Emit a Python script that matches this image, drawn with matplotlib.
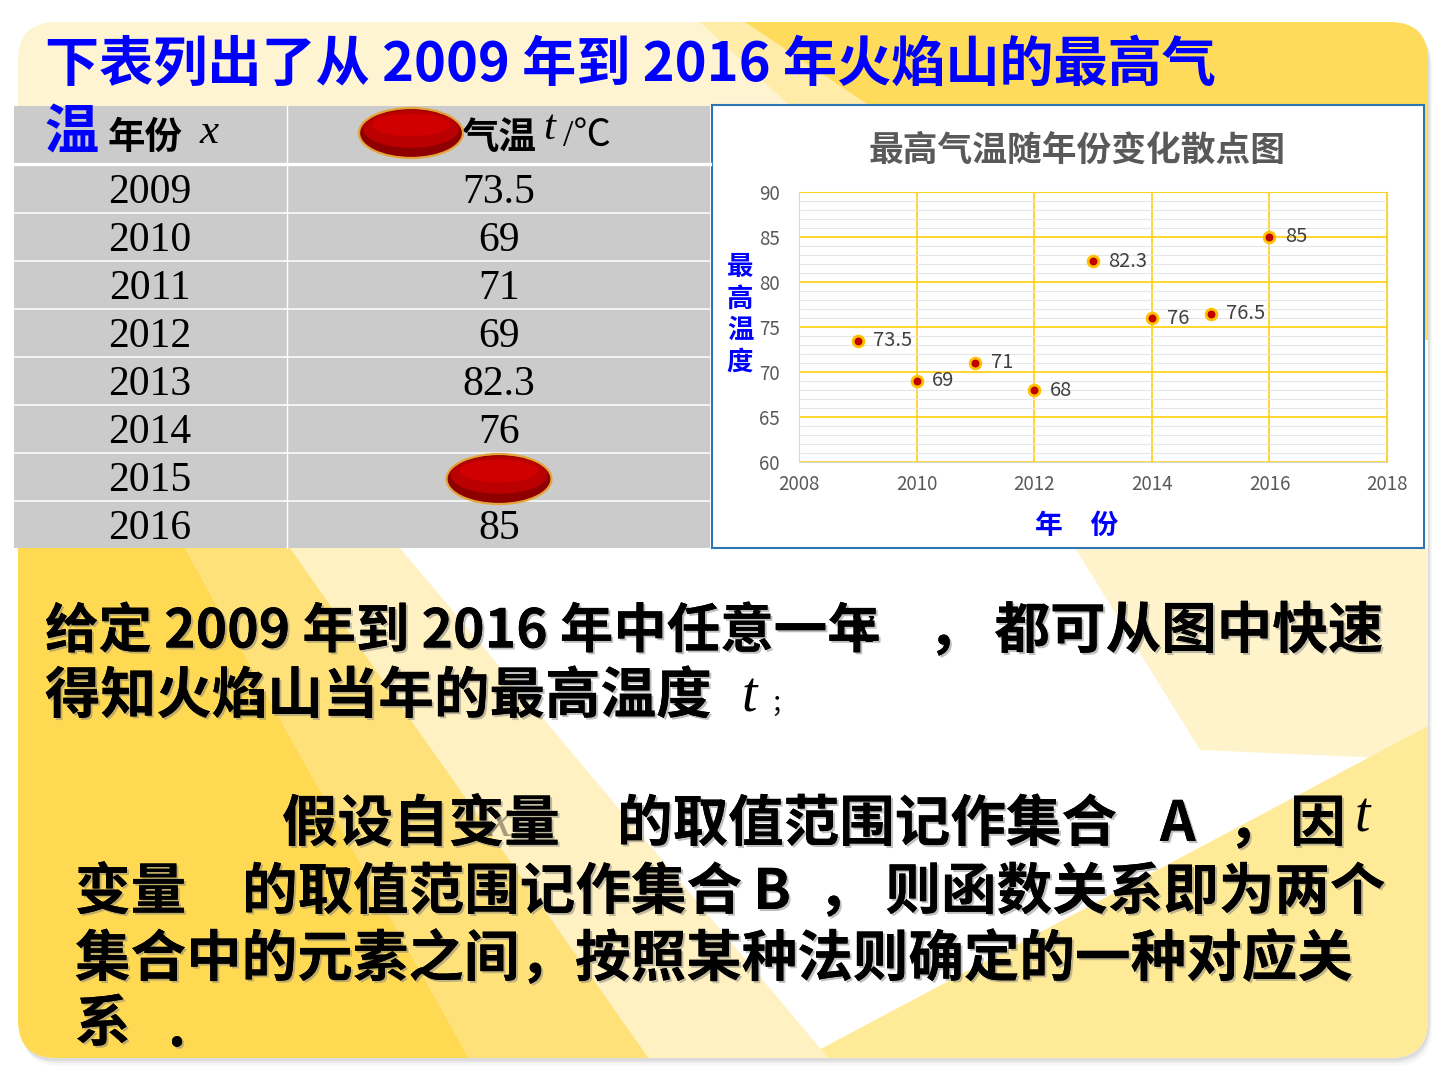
import matplotlib
matplotlib.use("Agg")
import matplotlib.pyplot as plt
import matplotlib.patheffects as pe
from matplotlib.patches import Rectangle, Ellipse, Polygon, FancyBboxPatch

plt.rcParams['font.family'] = ['Noto Sans CJK SC', 'DejaVu Sans']

# data
years = [2009, 2010, 2011, 2012, 2013, 2014, 2015, 2016]
table_temps = ["73.5", "69", "71", "69", "82.3", "76", "76.5", "85"]
chart_temps = [73.5, 69, 71, 68, 82.3, 76, 76.5, 85]
chart_labels = ["73.5", "69", "71", "68", "82.3", "76", "76.5", "85"]
x_ticks = [2008, 2010, 2012, 2014, 2016, 2018]
y_ticks = [60, 65, 70, 75, 80, 85, 90]

BLUE = '#0000FF'
SERIF = ['Liberation Serif', 'DejaVu Serif']

W, H = 1440, 1080
fig = plt.figure(figsize=(14.4, 10.8), dpi=100)
bg = fig.add_axes([0, 0, 1, 1])
bg.set_xlim(0, W)
bg.set_ylim(H, 0)
bg.axis('off')

# slide panel with soft shadow
for d, a in [(8, 0.03), (5, 0.05), (3, 0.06)]:
    bg.add_patch(FancyBboxPatch((18 + d * 0.5, 22 + d), 1410, 1036,
                                boxstyle="round,pad=0,rounding_size=38",
                                fc='black', ec='none', alpha=a, zorder=0.5))
panel = FancyBboxPatch((18, 22), 1410, 1036, boxstyle="round,pad=0,rounding_size=38",
                       fc='white', ec='none', zorder=1)
bg.add_patch(panel)

shapes = [
    ([(18, 22), (745, 22), (790, 106), (18, 106)], '#FFF4D2'),
    ([(700, 22), (760, 22), (870, 106), (790, 106)], '#FFECA8'),
    ([(745, 22), (1430, 22), (1430, 340), (1424, 340), (870, 106)], '#FFDB5C'),
    ([(1075, 548), (1430, 548), (1430, 760), (1200, 750)], '#FFF3CC'),
    ([(1430, 725), (1430, 1060), (800, 1060)], '#FFEA98'),
    ([(290, 548), (400, 548), (830, 1060), (650, 1060)], '#FFF1C2'),
    ([(185, 548), (290, 548), (650, 1060), (470, 1060)], '#FFE17A'),
    ([(10, 548), (185, 548), (470, 1060), (10, 1060)], '#FFD952'),
]
for pts, col in shapes:
    p = Polygon(pts, closed=True, fc=col, ec='none', zorder=1.2)
    bg.add_patch(p)
    p.set_clip_path(panel)

# slide heading
bg.text(45, 66, "下表列出了从 2009 年到 2016 年火焰山的最高气", fontsize=39,
        fontweight='bold', color=BLUE, va='center', ha='left', zorder=5)

# table
tx0, tx1, tcol = 14, 710, 287
bg.add_patch(Rectangle((tx0, 106), tx1 - tx0, 442, fc='#CBCBCB', ec='none', zorder=2))
bg.plot([tx0, tx1], [164, 164], color='white', lw=2.4, zorder=3)
row_h = 48
for i in range(1, len(years)):
    yy = 165 + row_h * i
    bg.plot([tx0, tx1], [yy, yy], color='white', lw=1.1, zorder=3)
bg.plot([tcol, tcol], [106, 548], color='white', lw=1.0, zorder=3)

bg.text(45, 134, "温", fontsize=39, fontweight='bold', color=BLUE, va='center', zorder=5)
bg.text(108, 137, "年份", fontsize=27, fontweight='bold', color='black', va='center', zorder=5)
bg.text(200, 133, "x", fontsize=31, style='italic', family=SERIF, color='black', va='center', zorder=5)
bg.text(462, 137, "气温", fontsize=27, fontweight='bold', color='black', va='center', zorder=5)
bg.text(543, 129, "t", fontsize=31, style='italic', family=SERIF, color='black', va='center', zorder=5)
bg.text(563, 137, "/℃", fontsize=27, family=['Liberation Serif', 'Noto Sans CJK SC'],
        color='black', va='center', zorder=5)
bg.text(411, 137, "最高", fontsize=27, fontweight='bold', color='black', va='center', ha='center', zorder=4)

for i, (yr, tv) in enumerate(zip(years, table_temps)):
    cy = 165 + row_h * i + row_h / 2 + 4
    bg.text(150, cy, str(yr), fontsize=30, family=SERIF, color='black', ha='center', va='center', zorder=4)
    bg.text(499, cy, tv, fontsize=30, family=SERIF, color='black', ha='center', va='center', zorder=4)


def blob(cx, cy, w, h):
    bg.add_patch(Ellipse((cx, cy), w, h, fc='#8E0000', ec='#E3A53A', lw=1.6, zorder=6))
    bg.add_patch(Ellipse((cx, cy - 4), w * 0.92, h * 0.75, fc='#C00000', ec='none', alpha=0.9, zorder=6))
    bg.add_patch(Ellipse((cx, cy - 8), w * 0.75, h * 0.45, fc='#D60000', ec='none', alpha=0.8, zorder=6))


blob(411, 133, 104, 50)
blob(499, 479, 105, 50)

# chart box
bg.add_patch(Rectangle((712, 105), 712, 443, fc='white', ec='#2E75B6', lw=1.5, zorder=2))
bg.text(1077, 150, "最高气温随年份变化散点图", fontsize=25, fontweight='bold',
        color='#595959', ha='center', va='center', zorder=5)
bg.text(740, 315, "最\n高\n温\n度", fontsize=19, fontweight='bold', color=BLUE,
        ha='center', va='center', linespacing=1.22, zorder=5)
bg.text(1077, 526, "年　份", fontsize=20, fontweight='bold', color=BLUE,
        ha='center', va='center', zorder=5)

ax = fig.add_axes([799 / W, 1 - 462 / H, 588 / W, 270 / H], zorder=3)
ax.set_facecolor('white')
ax.set_xlim(2008, 2018)
ax.set_ylim(60, 90)
ax.set_xticks(x_ticks)
ax.set_yticks(y_ticks)
ax.set_yticks(range(60, 91), minor=True)
ax.tick_params(which='both', length=0, labelsize=13.5, labelcolor='#595959')
ax.tick_params(axis='x', pad=9)
ax.tick_params(axis='y', pad=14)
ax.grid(which='major', color='#FFD21F', lw=1.3)
ax.grid(which='minor', axis='y', color='#E6E6E6', lw=0.8)
ax.set_axisbelow(True)
for s in ['left', 'bottom']:
    ax.spines[s].set_color('#D9D9D9')
for s in ['top', 'right']:
    ax.spines[s].set_color('#FFD21F')

ax.scatter(years, chart_temps, s=60, c='#C00000', edgecolors='#FFC000', linewidths=2, zorder=5)
for xv, yv, lb in zip(years, chart_temps, chart_labels):
    ax.annotate(lb, (xv, yv), xytext=(11, 0), textcoords='offset points',
                va='center', ha='left', fontsize=14.5, color='#404040')

# lower paragraph
shadow = [pe.withSimplePatchShadow(offset=(1.5, -1.5), shadow_rgbFace='#808080', alpha=0.5), pe.Normal()]
body = dict(fontsize=40, fontweight='bold', color='black', va='center', ha='left',
            zorder=5, path_effects=shadow)
ital = dict(fontsize=40, style='italic', family=SERIF, color='black', va='center', ha='left', zorder=6)

bg.text(45, 632, "给定 2009 年到 2016 年中任意一年", **{**body, 'fontsize': 38.5})
bg.text(850, 628, "x", **ital)
bg.text(928, 632, "，", **body)
bg.text(1383, 632, "都可从图中快速", **{**body, 'ha': 'right'})

bg.text(45, 697, "得知火焰山当年的最高温度", **body)
bg.text(742, 697, "t", **ital)
bg.text(770, 705, "；", fontsize=18, color='black', va='center', zorder=6)

bg.text(282, 825, "假设自变量", **body)
bg.text(488, 822, "x", **{**ital, 'alpha': 0.35})
bg.text(617, 825, "的取值范围记作集合", **body)
bg.text(1160, 825, "A", **body)
bg.text(1228, 825, "，", **body)
bg.text(1290, 825, "因", **body)
bg.text(1355, 818, "t", **ital)

bg.text(75, 893, "变量", **body)
bg.text(242, 893, "的取值范围记作集合", **body)
bg.text(753, 893, "B", **body)
bg.text(818, 893, "，", **body)
bg.text(1385, 893, "则函数关系即为两个", **{**body, 'ha': 'right'})

bg.text(75, 960, "集合中的元素之间，按照某种法则确定的一种对应关", **body)
bg.text(75, 1025, "系", **body)
bg.text(168, 1030, ".", **body)

fig.savefig("out.png", dpi=100)
